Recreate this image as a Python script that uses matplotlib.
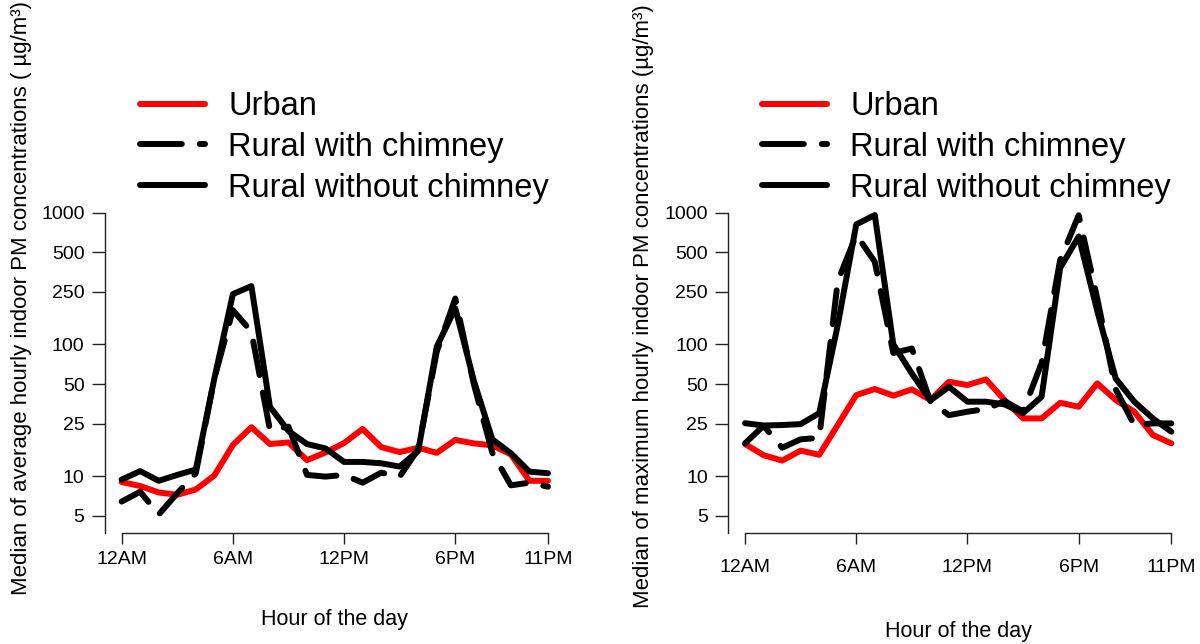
import matplotlib
matplotlib.use("Agg")
import matplotlib.pyplot as plt
from matplotlib.lines import Line2D
from matplotlib.ticker import FixedLocator, FixedFormatter, NullLocator

plt.rcParams['font.family'] = ['Liberation Sans', 'DejaVu Sans']

# ---------------- data ----------------
hours = list(range(24))
tick_hours = [0, 6, 12, 18, 23]
tick_labels = ["12AM", "6AM", "12PM", "6PM", "11PM"]
y_ticks = [5, 10, 25, 50, 100, 250, 500, 1000]
series_names = ["Urban", "Rural with chimney", "Rural without chimney"]

avg_urban = [9.0, 8.4, 7.5, 7.2, 7.9, 10.1, 17.2, 23.5, 17.5, 18.0, 13.2, 15.1,
             17.8, 22.8, 16.6, 15.2, 16.4, 15.0, 18.8, 17.7, 17.1, 14.6, 9.2, 9.2]
avg_with = [6.4, 7.6, 5.1, 7.4, 10.5, 55, 182, 125, 22.4, 23.7, 10.2, 9.9,
            10.2, 8.9, 10.6, 9.9, 16, 88, 223, 50, 15, 8.5, 8.9, 8.3]
avg_without = [9.4, 10.9, 9.2, 10.2, 11.2, 55, 241, 277, 33.6, 22, 17.5, 16.2,
               12.8, 12.8, 12.5, 11.8, 15.5, 96, 188, 53, 19, 14.9, 10.8, 10.5]

max_urban = [17.5, 14.4, 13.1, 15.6, 14.5, 24.4, 41.2, 45.8, 40.8, 45.5, 37.8, 52,
             49.1, 54.2, 37.8, 27.4, 27.4, 36, 33.6, 50.6, 37.8, 30.8, 20.5, 17.7]
max_with = [17.7, 24.1, 16.4, 19, 19.5, 300, 680, 424, 86, 93, 37, 29,
            30.8, 32.3, 37, 31, 72, 437, 956, 224, 45.5, 24.4, 25.1, 25.1]
max_without = [25.2, 24.2, 24.4, 24.8, 30, 140, 815, 960, 100, 60, 37.5, 47.6,
               36.7, 36.7, 35, 30, 40, 380, 660, 180, 55, 36.7, 27.4, 21.7]

ylabels = ["Median of average hourly indoor PM concentrations ( \u00b5g/m\u00b3)",
           "Median of maximum hourly indoor PM concentrations (\u00b5g/m\u00b3)"]
xlabel = "Hour of the day"

# ---------------- layout ----------------
W, H = 1200, 644
fig = plt.figure(figsize=(W / 100, H / 100), dpi=100)

LW = 4.3
YLO, YHI = 3.712, 1249
XLO, XHI = -0.92, 23.92
bottom_px, top_px = 532.7, 200
ax_h = (bottom_px - top_px) / H
ax_b = (H - bottom_px) / H
ax_w = 460.4 / W

TICK_FS = 14
XLAB_FS = 15.5
YLAB_FS = 16
LEG_FS = 23.5

panels = [
    dict(left=104.6, data=(avg_urban, avg_with, avg_without), ylabel=ylabels[0],
         ylab_x=22.0, ylab_y=298, xlab_y=619, xpad=5.5, leg_x=140),
    dict(left=728.0, data=(max_urban, max_with, max_without), ylabel=ylabels[1],
         ylab_x=644, ylab_y=306, xlab_y=631, xpad=11.0, leg_x=762),
]

style = dict(linewidth=LW, solid_capstyle='round', solid_joinstyle='round',
             dash_capstyle='round', dash_joinstyle='round')

for p in panels:
    ax = fig.add_axes([p['left'] / W, ax_b, ax_w, ax_h])
    urban, withc, without = p['data']
    ax.plot(hours, urban, color='#ff0000', clip_on=False, **style)
    ax.plot(hours, withc, color='black', linestyle=(0, (5.7, 3.0)), clip_on=False, **style)
    ax.plot(hours, without, color='black', clip_on=False, **style)

    ax.set_yscale('log')
    ax.set_ylim(YLO, YHI)
    ax.set_xlim(XLO, XHI)
    ax.yaxis.set_major_locator(FixedLocator(y_ticks))
    ax.yaxis.set_major_formatter(FixedFormatter([str(v) for v in y_ticks]))
    ax.yaxis.set_minor_locator(NullLocator())
    ax.set_xticks(tick_hours)
    ax.set_xticklabels(tick_labels)

    for s in ['top', 'right']:
        ax.spines[s].set_visible(False)
    for s in ['left', 'bottom']:
        ax.spines[s].set_linewidth(1.0)
        ax.spines[s].set_color('#222222')
    ax.spines['bottom'].set_bounds(0, 23)
    ax.spines['left'].set_bounds(YLO, 1000)

    ax.tick_params(axis='y', length=9.6, width=1.0, pad=4.8, labelsize=TICK_FS,
                   color='#222222')
    ax.tick_params(axis='x', length=8.0, width=1.0, pad=p['xpad'], labelsize=TICK_FS,
                   color='#222222')
    ax.patch.set_visible(False)

    fig.text(p['ylab_x'] / W, 1 - p['ylab_y'] / H, p['ylabel'], rotation=90,
             ha='center', va='center', fontsize=YLAB_FS)
    fig.text((p['left'] + 17.06 + 18.52 * 11.5) / W, 1 - p['xlab_y'] / H, xlabel,
             ha='center', va='center', fontsize=XLAB_FS)

    handles = [Line2D([], [], color='#ff0000', **style),
               Line2D([], [], color='black', linestyle=(0, (7.0, 3.0)), **style),
               Line2D([], [], color='black', **style)]
    ax.legend(handles=handles, labels=series_names, loc='upper left',
              bbox_to_anchor=(p['leg_x'] / W, 1 - 91 / H),
              bbox_transform=fig.transFigure, frameon=False,
              fontsize=LEG_FS, handlelength=2.0, handletextpad=0.7,
              labelspacing=0.30, borderpad=0, borderaxespad=0)

fig.savefig("out.png", dpi=100)
